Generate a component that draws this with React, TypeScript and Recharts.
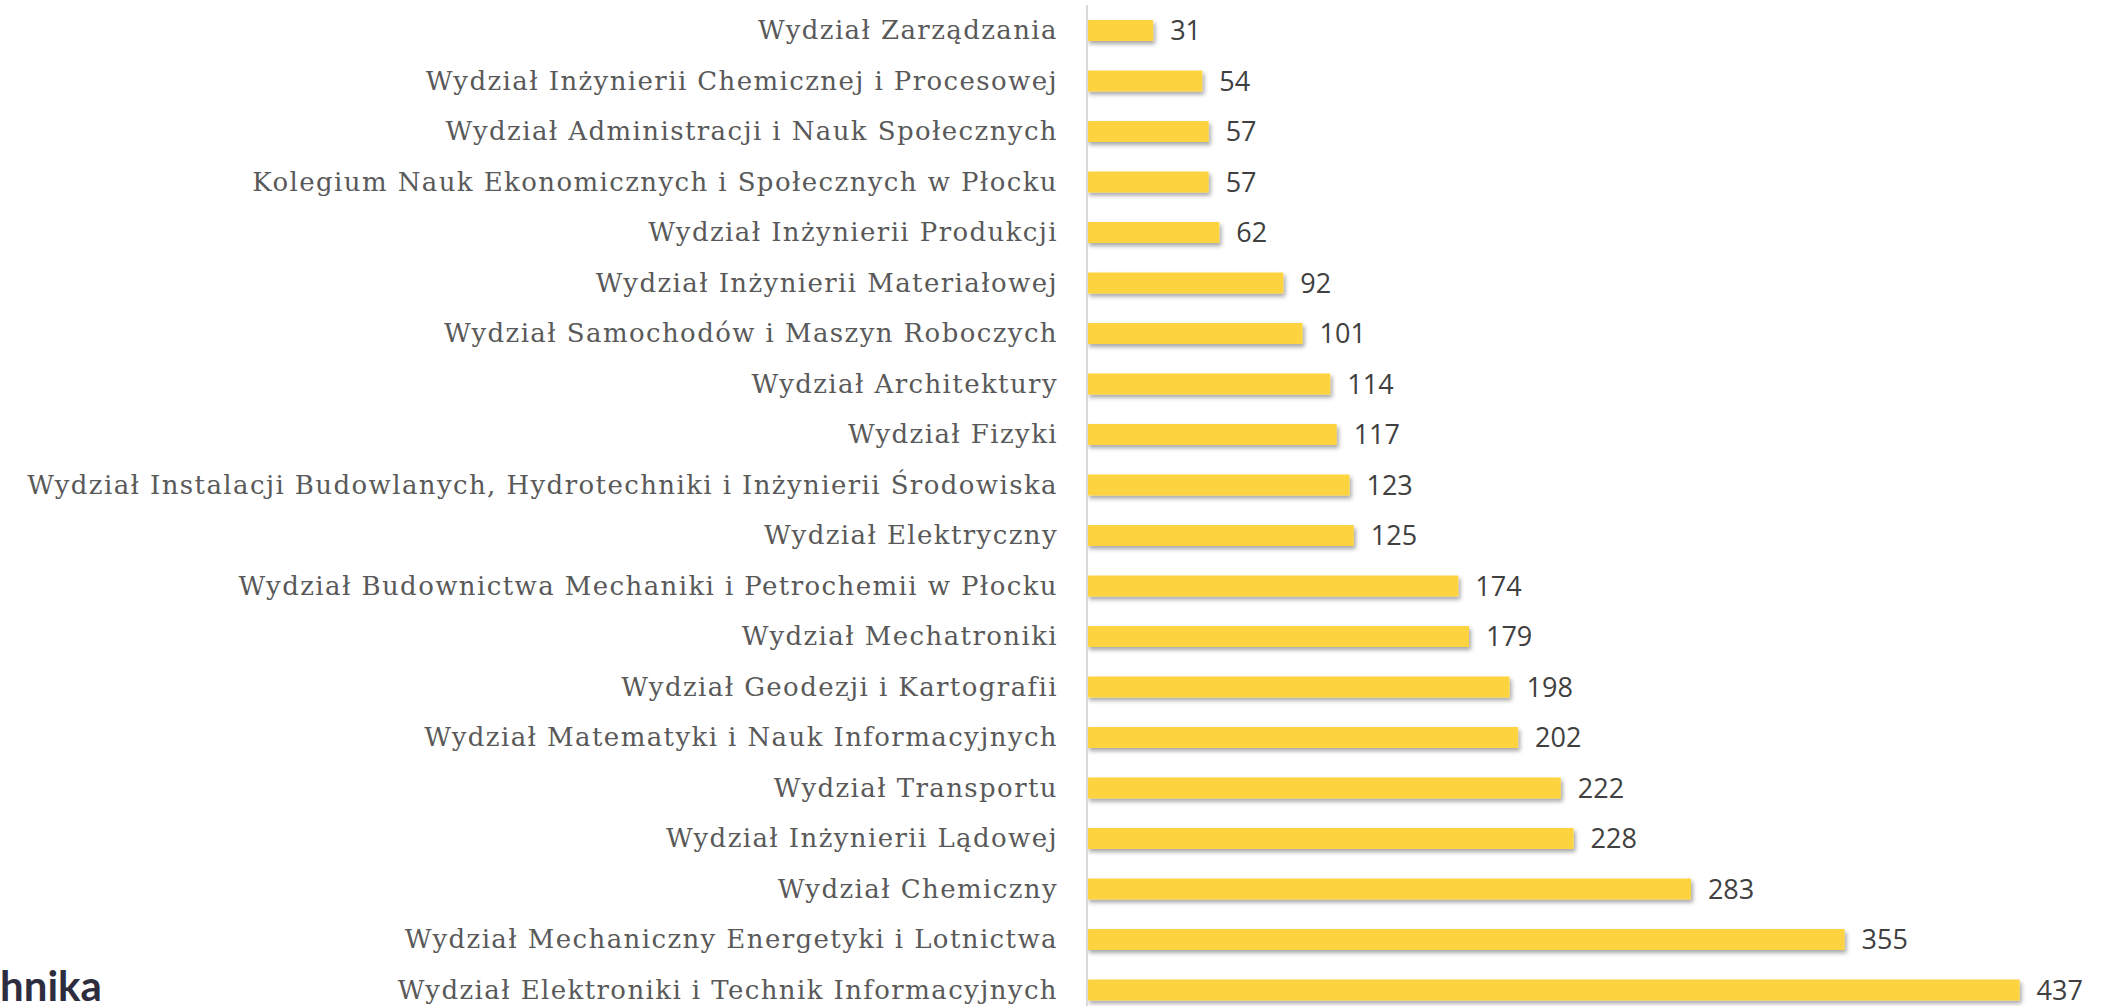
import { BarChart, Bar, XAxis, YAxis, LabelList } from "recharts"

const faculties = [
  "Wydział Zarządzania",
  "Wydział Inżynierii Chemicznej i Procesowej",
  "Wydział Administracji i Nauk Społecznych",
  "Kolegium Nauk Ekonomicznych i Społecznych w Płocku",
  "Wydział Inżynierii Produkcji",
  "Wydział Inżynierii Materiałowej",
  "Wydział Samochodów i Maszyn Roboczych",
  "Wydział Architektury",
  "Wydział Fizyki",
  "Wydział Instalacji Budowlanych, Hydrotechniki i Inżynierii Środowiska",
  "Wydział Elektryczny",
  "Wydział Budownictwa Mechaniki i Petrochemii w Płocku",
  "Wydział Mechatroniki",
  "Wydział Geodezji i Kartografii",
  "Wydział Matematyki i Nauk Informacyjnych",
  "Wydział Transportu",
  "Wydział Inżynierii Lądowej",
  "Wydział Chemiczny",
  "Wydział Mechaniczny Energetyki i Lotnictwa",
  "Wydział Elektroniki i Technik Informacyjnych",
]

const counts = [31, 54, 57, 57, 62, 92, 101, 114, 117, 123, 125, 174, 179, 198, 202, 222, 228, 283, 355, 437]

const data = faculties.map((name, i) => ({ name, value: counts[i] }))

const BAR_COLOR = "#FDD43F"

function ShadowBar(props: any) {
  const { x, y, width, height } = props
  if (!width || width <= 0) return null
  return <rect x={x} y={y} width={width} height={height} fill={BAR_COLOR} filter="url(#barShadow)" />
}

export default function App() {
  return (
    <div style={{ position: "fixed", left: 0, top: 0, width: 2110, height: 1006, overflow: "hidden", background: "#fff" }}>
      <BarChart
        width={2110}
        height={1020}
        data={data}
        layout="vertical"
        margin={{ top: 5, right: 20, bottom: 5, left: 0 }}
      >
        <defs>
          <filter id="barShadow" x="-5%" y="-50%" width="115%" height="220%">
            <feDropShadow dx="2" dy="3" stdDeviation="2" floodColor="#000" floodOpacity="0.35" />
          </filter>
        </defs>
        <XAxis type="number" domain={[0, 470]} hide />
        <YAxis
          type="category"
          dataKey="name"
          width={1087}
          axisLine={{ stroke: "#d9d9d9", strokeWidth: 2 }}
          tickLine={false}
          tickSize={0}
          tickMargin={29}
          interval={0}
          tick={{ fontFamily: "DejaVu Serif", fontSize: 26, fill: "#595959", letterSpacing: 1.4 }}
        />
        <Bar dataKey="value" barSize={21} shape={ShadowBar} isAnimationActive={false}>
          <LabelList
            dataKey="value"
            position="right"
            offset={17}
            style={{ fontFamily: "Open Sans", fontSize: 27, fill: "#404040" }}
          />
        </Bar>
      </BarChart>
      <div
        style={{
          position: "absolute",
          left: 0,
          top: 961,
          fontFamily: "Lato",
          fontWeight: 700,
          fontSize: 42,
          color: "#2e2d40",
          lineHeight: "48px",
        }}
      >
        hnika
      </div>
    </div>
  )
}
